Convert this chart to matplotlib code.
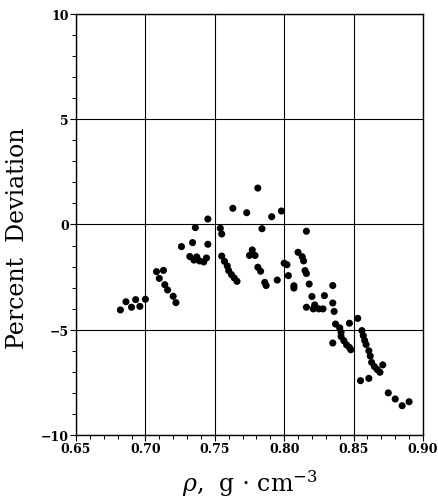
import matplotlib
matplotlib.use("Agg")
import matplotlib.pyplot as plt
from matplotlib.ticker import MultipleLocator, FormatStrFormatter

density = [0.682, 0.686, 0.690, 0.693, 0.696, 0.700,
           0.708, 0.713, 0.710, 0.714, 0.716, 0.720, 0.722,
           0.726, 0.734, 0.736, 0.745, 0.745, 0.732, 0.735, 0.737, 0.739, 0.742, 0.744,
           0.755, 0.757, 0.759, 0.760, 0.762, 0.764, 0.766,
           0.754, 0.755, 0.763, 0.773, 0.781,
           0.777, 0.775, 0.779, 0.781, 0.783, 0.786, 0.787, 0.784, 0.791, 0.798,
           0.795, 0.800, 0.802, 0.803, 0.807, 0.807,
           0.816, 0.810, 0.813, 0.814, 0.815, 0.816, 0.818, 0.820, 0.816, 0.822,
           0.821, 0.825, 0.828, 0.829, 0.835, 0.835, 0.836,
           0.837, 0.840, 0.841, 0.847, 0.853, 0.835, 0.841, 0.843, 0.845, 0.847, 0.848,
           0.856, 0.857, 0.858, 0.859, 0.861, 0.862, 0.863, 0.865, 0.867, 0.869, 0.871,
           0.855, 0.861, 0.875, 0.880, 0.885, 0.890]

deviation = [-4.06, -3.67, -3.93, -3.57, -3.89, -3.55,
             -2.24, -2.18, -2.56, -2.86, -3.11, -3.41, -3.71,
             -1.05, -0.86, -0.15, 0.26, -0.94, -1.52, -1.69, -1.54, -1.73, -1.78, -1.59,
             -1.50, -1.75, -1.97, -2.19, -2.38, -2.54, -2.70,
             -0.18, -0.45, 0.77, 0.56, 1.73,
             -1.21, -1.47, -1.47, -2.03, -2.22, -2.75, -2.90, -0.20, 0.37, 0.64,
             -2.64, -1.84, -1.91, -2.43, -2.91, -3.02,
             -0.32, -1.32, -1.53, -1.73, -2.19, -2.33, -2.83, -3.42, -3.93, -3.82,
             -4.01, -4.01, -4.01, -3.38, -2.90, -3.73, -4.13,
             -4.73, -4.91, -5.12, -4.69, -4.46, -5.63, -5.32, -5.52, -5.72, -5.84, -5.95,
             -5.04, -5.28, -5.51, -5.70, -6.00, -6.25, -6.55, -6.75, -6.89, -7.02, -6.67,
             -7.42, -7.31, -8.00, -8.29, -8.61, -8.42]

x_ticks = [0.65, 0.70, 0.75, 0.80, 0.85, 0.90]
y_ticks = [-10, -5, 0, 5, 10]

plt.rcParams['mathtext.fontset'] = 'dejavuserif'

fig = plt.figure(figsize=(4.38, 5.02), dpi=100)
ax = fig.add_axes([0.1735, 0.1315, 0.7922, 0.8386])

ax.scatter(density, deviation, s=26, c='black', edgecolors='none', zorder=3)

ax.set_xlim(0.65, 0.90)
ax.set_ylim(-10, 10)
ax.set_xticks(x_ticks)
ax.set_yticks(y_ticks)
ax.xaxis.set_major_formatter(FormatStrFormatter('%.2f'))
ax.xaxis.set_minor_locator(MultipleLocator(0.01))
ax.yaxis.set_minor_locator(MultipleLocator(1))
ax.grid(True, which='major', color='black', linewidth=0.8)
ax.tick_params(which='both', direction='out', top=False, right=False, color='black')
ax.tick_params(which='major', length=4, width=0.8, pad=1)
ax.tick_params(which='minor', length=3, width=0.7)
for lab in ax.get_xticklabels() + ax.get_yticklabels():
    lab.set_family('DejaVu Serif')
    lab.set_fontweight('bold')
    lab.set_fontsize(9)
for sp in ax.spines.values():
    sp.set_linewidth(1.0)

ax.set_ylabel('Percent  Deviation', family='DejaVu Serif', fontsize=17)
ax.yaxis.set_label_coords(-0.135, 0.47)
ax.set_xlabel(r'$\rho$,  g $\cdot$ cm$^{-3}$', family='DejaVu Serif', fontsize=17, labelpad=9)

fig.savefig('out.png', dpi=100)
